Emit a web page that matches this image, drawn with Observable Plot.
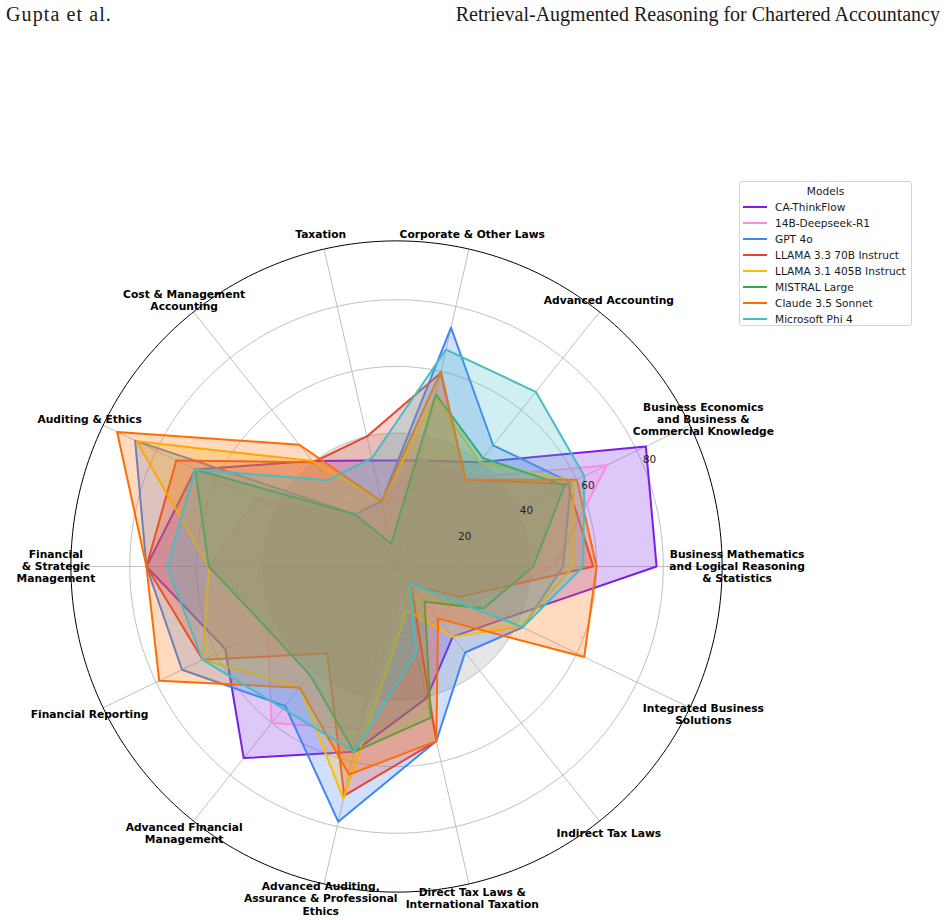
<!DOCTYPE html>
<html>
<head>
<meta charset="utf-8">
<script src="https://cdn.jsdelivr.net/npm/d3@7"></script>
<script src="https://cdn.jsdelivr.net/npm/@observablehq/plot@0.6"></script>
<style>
  body { margin: 0; background: #fff; width: 948px; height: 920px; position: relative; overflow: hidden; }
  #header { position: absolute; left: 0; top: 0; width: 948px; height: 30px;
            font-family: "Liberation Serif", "Times New Roman", serif; font-size: 20px; color: #1a1a1a; }
  #header .left { position: absolute; left: 6px; top: 3px; letter-spacing: 1.1px; }
  #header .right { position: absolute; right: 8px; top: 3px; }
  #chart { position: absolute; left: 0; top: 30px; }
  #legend { position: absolute; left: 739px; top: 181px; width: 173px; height: 145px; box-sizing: border-box;
            border: 1px solid #d5d5d5; border-radius: 3px; background: rgba(255,255,255,0.85);
            font-family: "DejaVu Sans", sans-serif; font-size: 10.6px; color: #1a1a1a; }
  #legend .title { position: absolute; left: 0; width: 100%; top: 1px; line-height: 16px; text-align: center; }
  #legend .row { position: absolute; left: 0; height: 16px; line-height: 16px; white-space: nowrap; }
  #legend .swatch { position: absolute; left: 3px; top: 7px; width: 24px; height: 2px; }
  #legend .name { position: absolute; left: 35px; top: 0; }
</style>
</head>
<body>
<div id="header"><span class="left">Gupta et al.</span><span class="right">Retrieval-Augmented Reasoning for Chartered Accountancy</span></div>
<div id="chart"></div>
<div id="legend"></div>
<script>
// Subjects of the CA curriculum, placed counter-clockwise starting at 3 o'clock
const subjects = [
  "Business Mathematics\nand Logical Reasoning\n& Statistics",
  "Business Economics\nand Business &\nCommercial Knowledge",
  "Advanced Accounting",
  "Corporate & Other Laws",
  "Taxation",
  "Cost & Management\nAccounting",
  "Auditing & Ethics",
  "Financial\n& Strategic\nManagement",
  "Financial Reporting",
  "Advanced Financial\nManagement",
  "Advanced Auditing,\nAssurance & Professional\nEthics",
  "Direct Tax Laws &\nInternational Taxation",
  "Indirect Tax Laws",
  "Integrated Business\nSolutions"
];

// Scores (%) per subject, same order as the subjects above
const caThinkFlow  = [78, 83, 40, 32.6, 32.6, 40.5, 67, 75, 57, 73.5, 57, 40.5, 27, 36];
const deepseekR1   = [47.5, 70, 34, 33, 20, 20, 46.7, 56, 43, 60, 50, 8, 7, 25];
const gpt4o        = [50, 58, 46.5, 73.5, 20, 20, 87, 75, 71.4, 53.5, 78.5, 53.7, 33, 42];
const llama33_70b  = [59, 57, 33.3, 59.5, 40, 40, 73.3, 75, 64.5, 33.3, 70.5, 53.7, 7, 21];
const llama31_405b = [53, 59, 40, 52, 20, 40.5, 86.5, 56.3, 64.5, 46.5, 71.5, 13.5, 27, 41.5];
const mistralLarge = [41, 56, 41.6, 53, 7, 20, 67, 56.3, 43, 41.6, 57, 46.5, 13.5, 29];
const claude35     = [60, 60, 33.3, 60, 20, 46.7, 93, 75, 79, 46.5, 64, 53.7, 20, 62.5];
const phi4         = [56, 62.5, 67, 66.7, 33.3, 33.1, 67, 68.8, 64.5, 54.5, 57, 26.5, 6.7, 42];

const modelNames = ["CA-ThinkFlow", "14B-Deepseek-R1", "GPT 4o", "LLAMA 3.3 70B Instruct",
                    "LLAMA 3.1 405B Instruct", "MISTRAL Large", "Claude 3.5 Sonnet", "Microsoft Phi 4"];
const modelColors = ["#7b1fe6", "#f78ddf", "#4285f4", "#ea4335", "#fbbc04", "#34a853", "#ff6d01", "#46bdc6"];

const ringTicks = [20, 40, 60, 80];
const passMark = 40;

// ---- geometry ----
const series = [caThinkFlow, deepseekR1, gpt4o, llama33_70b, llama31_405b, mistralLarge, claude35, phi4];
const n = subjects.length;
const angle = i => (2 * Math.PI * i) / n;
const rMax = d3.max(series.flat()) * 1.05;
const W = 948, H = 890, cx = 396, cy = 536, outerPx = 325.6;
const k = outerPx / rMax;               // pixels per score point
const polar = (r, a) => ({x: r * Math.cos(a), y: r * Math.sin(a)});
const circle = r => d3.range(360).map(j => polar(r, (2 * Math.PI * j) / 360));

const marks = [];

// shaded pass-mark disc
marks.push(Plot.line(circle(passMark), {x: "x", y: "y", curve: "linear-closed",
  fill: "#808080", fillOpacity: 0.2, stroke: "none"}));

// radial grid
for (const r of ringTicks) {
  marks.push(Plot.line(circle(r), {x: "x", y: "y", curve: "linear-closed",
    stroke: "#b0b0b0", strokeWidth: 0.8}));
}
marks.push(Plot.link(d3.range(n), {
  x1: 0, y1: 0,
  x2: i => polar(rMax, angle(i)).x, y2: i => polar(rMax, angle(i)).y,
  stroke: "#b0b0b0", strokeWidth: 0.8
}));
marks.push(Plot.line(circle(rMax), {x: "x", y: "y", curve: "linear-closed",
  stroke: "#000", strokeWidth: 1}));

// one outlined, translucent polygon per model
series.forEach((values, m) => {
  const pts = values.map((v, i) => ({model: modelNames[m], ...polar(v, angle(i))}));
  marks.push(Plot.line(pts, {x: "x", y: "y", curve: "linear-closed",
    stroke: modelColors[m], strokeWidth: 2, strokeLinejoin: "round"}));
  marks.push(Plot.line(pts, {x: "x", y: "y", curve: "linear-closed",
    fill: modelColors[m], fillOpacity: 0.25, stroke: "none"}));
});

// radial tick labels along 22.5°
const tickAngle = Math.PI / 8;
marks.push(Plot.text(ringTicks, {
  x: r => polar(r, tickAngle).x, y: r => polar(r, tickAngle).y,
  text: d => String(d), textAnchor: "start", lineAnchor: "bottom",
  dx: 0, dy: -1, fontSize: 10.5, fill: "#222"
}));

// subject labels outside the outer ring
const rLabel = rMax + 15 / k;
marks.push(Plot.text(subjects, {
  x: (d, i) => polar(rLabel, angle(i)).x, y: (d, i) => polar(rLabel, angle(i)).y,
  text: d => d, textAnchor: "middle", lineAnchor: "middle", lineHeight: 1.13,
  fontSize: 10.7, fontWeight: "bold", fill: "#000"
}));

const chart = Plot.plot({
  width: W, height: H,
  marginTop: 0, marginRight: 0, marginBottom: 0, marginLeft: 0,
  x: {domain: [-cx / k, (W - cx) / k], axis: null},
  y: {domain: [-(H - cy) / k, cy / k], axis: null},
  style: {fontFamily: "DejaVu Sans", background: "transparent", overflow: "visible"},
  marks
});
document.getElementById("chart").appendChild(chart);

// legend
const legend = document.getElementById("legend");
const title = document.createElement("div");
title.className = "title";
title.textContent = "Models";
legend.appendChild(title);
modelNames.forEach((name, i) => {
  const row = document.createElement("div");
  row.className = "row";
  row.style.top = (17 + 16 * i) + "px";
  const sw = document.createElement("span");
  sw.className = "swatch";
  sw.style.background = modelColors[i];
  const tx = document.createElement("span");
  tx.className = "name";
  tx.textContent = name;
  row.appendChild(sw);
  row.appendChild(tx);
  legend.appendChild(row);
});
</script>
</body>
</html>
